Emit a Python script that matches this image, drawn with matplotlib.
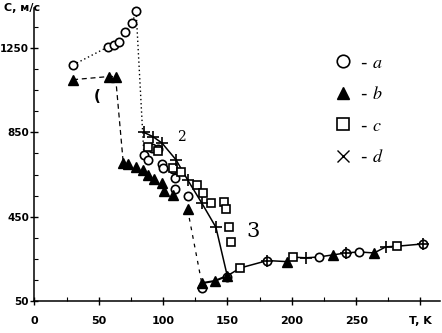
import numpy as np
import matplotlib.pyplot as plt
from matplotlib.lines import Line2D

plt.rcParams['font.family'] = ['Liberation Sans Narrow', 'DejaVu Sans']
plt.rcParams['mathtext.fontset'] = 'stix'

# series a - open circles
a_T_lo = [30, 57, 62, 66, 70, 76, 79]
a_C_lo = [1170, 1255, 1265, 1280, 1325, 1370, 1425]
a_T_mid = [85, 88, 91, 96, 99, 100, 108, 109, 109, 119]
a_C_mid = [745, 720, 775, 770, 700, 680, 675, 635, 580, 550]
a_T_hi = [130, 150, 181, 221, 242, 252, 302]
a_C_hi = [110, 165, 242, 259, 278, 283, 321]

# series b - filled triangles
b_T_lo = [30, 58, 63]
b_C_lo = [1100, 1115, 1115]
b_T_mid = [69, 73, 79, 84, 88, 93, 99, 101, 108, 119]
b_C_mid = [705, 700, 685, 670, 650, 630, 610, 570, 555, 485]
b_T_hi = [130, 140, 150, 196, 232, 264]
b_C_hi = [135, 145, 170, 237, 269, 278]

# series c - open squares
c_T_mid = [88, 96, 108, 114, 126, 131, 137, 147, 149, 151, 153]
c_C_mid = [783, 760, 683, 664, 600, 564, 516, 521, 485, 400, 330]
c_T_hi = [160, 201, 282]
c_C_hi = [207, 258, 310]

# series d - crosses
d_T_mid = [85, 92, 99, 110, 119, 130, 141]
d_C_mid = [850, 830, 800, 720, 625, 515, 400]
d_T_hi = [181, 211, 242, 273, 302]
d_C_hi = [242, 255, 278, 307, 321]

x_ticks = [0, 50, 100, 150, 200, 250, 300]
x_labels = ['0', '50', '100', '150', '200', '250', 'T, K']
y_ticks = [50, 450, 850, 1250]

fig = plt.figure(figsize=(4.42, 3.33), dpi=100)
ax = fig.add_axes([0.078, 0.096, 0.917, 0.88])

# connecting lines
ax.plot(a_T_lo + a_T_mid[:1], a_C_lo + a_C_mid[:1], color='k', ls=(0, (1, 2)), lw=1)
ax.plot(b_T_lo + b_T_mid[:1], b_C_lo + b_C_mid[:1], color='k', ls=(0, (4, 3)), lw=0.9)
ax.plot(b_T_mid[-1:] + b_T_hi[:1], b_C_mid[-1:] + b_C_hi[:1], color='k', ls=(0, (3, 4)), lw=0.9)
ax.plot(b_T_hi[:3], b_C_hi[:3], color='k', lw=1.5)

hi = sorted(zip(a_T_hi + b_T_hi + c_T_hi + d_T_hi, a_C_hi + b_C_hi + c_C_hi + d_C_hi))
hi = [p for p in hi if p[0] >= 150]
line_T = d_T_mid + [p[0] for p in hi]
line_C = d_C_mid + [p[1] for p in hi]
ax.plot(line_T, line_C, color='k', lw=1.1)

ms = 6
circ = dict(marker='o', mfc='white', mec='k', mew=1.2, ls='none', ms=ms, clip_on=False)
ax.plot(a_T_lo + a_T_mid + a_T_hi, a_C_lo + a_C_mid + a_C_hi, **circ)
ax.plot(b_T_lo + b_T_mid + b_T_hi, b_C_lo + b_C_mid + b_C_hi, marker='^', color='k',
        ls='none', ms=ms + 0.5)
ax.plot(c_T_mid + c_T_hi, c_C_mid + c_C_hi, marker='s', mfc='white', mec='k', mew=1.2,
        ls='none', ms=ms - 0.5)
ax.plot(d_T_mid + d_T_hi, d_C_mid + d_C_hi, marker='+', color='k', mew=1.2, ls='none', ms=ms + 3)

# annotations
ax.text(49, 1020, '(', fontsize=11, fontweight='bold', ha='center', va='center')
ax.text(114, 830, '2', fontsize=10, ha='center', va='center', family='DejaVu Serif')
ax.text(170, 378, '3', fontsize=15, ha='center', va='center', family='DejaVu Serif')

handles = [
    Line2D([], [], marker='o', mfc='white', mec='k', mew=1.2, ls='none', ms=9),
    Line2D([], [], marker='^', color='k', ls='none', ms=9),
    Line2D([], [], marker='s', mfc='white', mec='k', mew=1.2, ls='none', ms=8),
    Line2D([], [], marker='x', color='k', mew=1.0, ls='none', ms=9),
]
labels = ['- $a$', '- $b$', '- $c$', '- $d$']
ax.legend(handles, labels, loc='upper left', bbox_to_anchor=(0.7, 0.9), frameon=False,
          fontsize=13, handlelength=1.0, handletextpad=0.4, labelspacing=0.75)

ax.set_xlim(0, 315)
ax.set_ylim(50, 1440)
ax.set_xticks(x_ticks)
ax.set_xticklabels(x_labels)
ax.set_yticks(y_ticks)
ax.set_xticks([25, 75, 125, 175, 225, 275], minor=True)
ax.set_yticks([150, 250, 350, 550, 650, 750, 950, 1050, 1150, 1350], minor=True)
ax.tick_params(axis='both', which='major', direction='inout', length=6, width=1,
               labelsize=8)
ax.tick_params(axis='y', labelsize=7.5, pad=1)
ax.tick_params(axis='both', which='minor', direction='in', length=3, width=0.8)
ax.tick_params(axis='x', pad=8)
for lbl in ax.get_xticklabels() + ax.get_yticklabels():
    lbl.set_fontweight('bold')

for s in ['top', 'right']:
    ax.spines[s].set_visible(False)
for s in ['left', 'bottom']:
    ax.spines[s].set_linewidth(1.1)

fig.text(0.008, 0.975, 'C, м/с', fontsize=8, fontweight='bold', ha='left', va='center')

fig.savefig('out.png', dpi=100)
